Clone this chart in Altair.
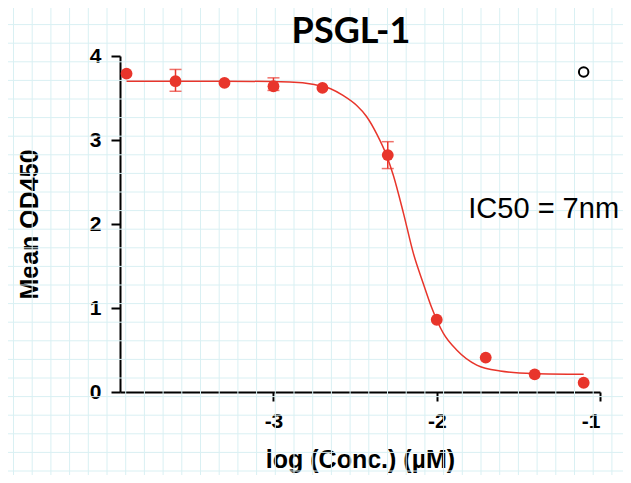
import altair as alt
import pandas as pd

# ---- data ----
log_conc = [-3.9, -3.6, -3.3, -3.0, -2.7, -2.3, -2.0, -1.7, -1.4, -1.1]
mean_od = [3.79, 3.70, 3.68, 3.64, 3.62, 2.82, 0.86, 0.41, 0.21, 0.11]

err_x = [-3.6, -3.0, -2.3]
err_lo = [3.58, 3.59, 2.66]
err_hi = [3.84, 3.74, 2.98]

fit_x = [-3.9, -3.3, -2.9, -2.75, -2.65, -2.574, -2.49, -2.43, -2.367, -2.306,
         -2.266, -2.204, -2.143, -2.082, -2.03, -1.96, -1.878, -1.755, -1.612,
         -1.41, -1.1]
fit_y = [3.70, 3.70, 3.69, 3.66, 3.61, 3.53, 3.41, 3.28, 3.07, 2.81,
         2.58, 2.13, 1.65, 1.29, 1.00, 0.70, 0.50, 0.32, 0.25,
         0.22, 0.21]

legend_x = [-1.1]
legend_y = [3.81]

note_text = ["IC50 = 7nm"]
note_x = [-1.345]
note_y = [2.18]

title_text = ["PSGL-1"]
title_x = [-2.525]
title_y = [4.29]

x_title = "log (Conc.) (µM)"
y_title = "Mean OD450"
x_ticks = [-3, -2, -1]
y_ticks = [0, 1, 2, 3, 4]

# ---- tables ----
pts = pd.DataFrame({"x": log_conc, "y": mean_od})
errs = pd.DataFrame({"x": err_x, "lo": err_lo, "hi": err_hi})
fit = pd.DataFrame({"x": fit_x, "y": fit_y})
leg = pd.DataFrame({"x": legend_x, "y": legend_y})
note = pd.DataFrame({"x": note_x, "y": note_y, "t": note_text})
ttl = pd.DataFrame({"x": title_x, "y": title_y, "t": title_text})

RED = "#e8352b"
W, H = 480, 336
PAD = {"left": 112, "top": 48, "right": 23, "bottom": 83}

xs = alt.Scale(domain=[-3.94, -1.0], nice=False, zero=False)
ys = alt.Scale(domain=[0, 4], nice=False)

x_axis = alt.Axis(
    values=x_ticks, title=x_title, grid=False,
    labelExpr="replace(format(datum.value, 'd'), '\u2212', '-')",
)
y_axis = alt.Axis(values=y_ticks, title=y_title, grid=False, format="d")

# background graph-paper grid (decoration, pixel offsets)
vgrid = (
    alt.Chart(alt.sequence(-106.5, 505, 18.7, as_="g"))
    .mark_rule(color="#d9f0f3", strokeWidth=1, clip=False)
    .encode(x=alt.X("g:Q", scale=None, axis=None),
            y=alt.value(-PAD["top"]), y2=alt.value(H + PAD["bottom"]))
)
hgrid = (
    alt.Chart(alt.sequence(-50, 420, 18.6, as_="g"))
    .mark_rule(color="#d9f0f3", strokeWidth=1, clip=False)
    .encode(y=alt.Y("g:Q", scale=None, axis=None),
            x=alt.value(-PAD["left"]), x2=alt.value(W + PAD["right"]))
)

curve = (
    alt.Chart(fit)
    .mark_line(color=RED, strokeWidth=1.5, interpolate="monotone")
    .encode(x=alt.X("x:Q", scale=xs, axis=x_axis), y=alt.Y("y:Q", scale=ys, axis=y_axis))
)

bars = (
    alt.Chart(errs)
    .mark_rule(color=RED, strokeWidth=1.5)
    .encode(x=alt.X("x:Q"), y=alt.Y("lo:Q"), y2="hi:Q")
)
cap_lo = (
    alt.Chart(errs)
    .mark_tick(color=RED, orient="horizontal", size=12, thickness=1.5)
    .encode(x=alt.X("x:Q"), y=alt.Y("lo:Q"))
)
cap_hi = (
    alt.Chart(errs)
    .mark_tick(color=RED, orient="horizontal", size=12, thickness=1.5)
    .encode(x=alt.X("x:Q"), y=alt.Y("hi:Q"))
)

points = (
    alt.Chart(pts)
    .mark_circle(color=RED, size=140, opacity=1)
    .encode(x=alt.X("x:Q"), y=alt.Y("y:Q"))
)

legend_marker = (
    alt.Chart(leg)
    .mark_point(shape="circle", filled=False, color="black", size=90, strokeWidth=2, opacity=1)
    .encode(x=alt.X("x:Q"), y=alt.Y("y:Q"))
)

annot = (
    alt.Chart(note)
    .mark_text(font="Liberation Sans", fontSize=29, color="black", align="center", baseline="middle")
    .encode(x=alt.X("x:Q"), y=alt.Y("y:Q"), text="t:N")
)

title_mark = (
    alt.Chart(ttl)
    .mark_text(font="Lato", fontSize=36, fontWeight="bold", color="black",
               align="center", baseline="middle", clip=False)
    .encode(x=alt.X("x:Q"), y=alt.Y("y:Q"), text="t:N")
)

chart = (
    alt.layer(vgrid, hgrid, curve, bars, cap_lo, cap_hi, points, legend_marker, annot, title_mark)
    .properties(
        width=W, height=H,
        autosize=alt.AutoSizeParams(type="none"),
        padding=PAD,
    )
    .configure_view(stroke=None)
    .configure_axis(
        domainColor="black", domainWidth=2, tickColor="black", tickWidth=2, tickSize=9,
        labelFont="Liberation Sans", labelFontWeight="bold", labelFontSize=21, labelColor="black",
        titleFont="Liberation Sans", titleFontWeight="bold", titleFontSize=25, titleColor="black",
    )
    .configure_axisX(labelPadding=9, titlePadding=16)
    .configure_axisY(labelPadding=10, titlePadding=47)
)

chart.save("out.html", embed_options={"renderer": "svg", "actions": False})
